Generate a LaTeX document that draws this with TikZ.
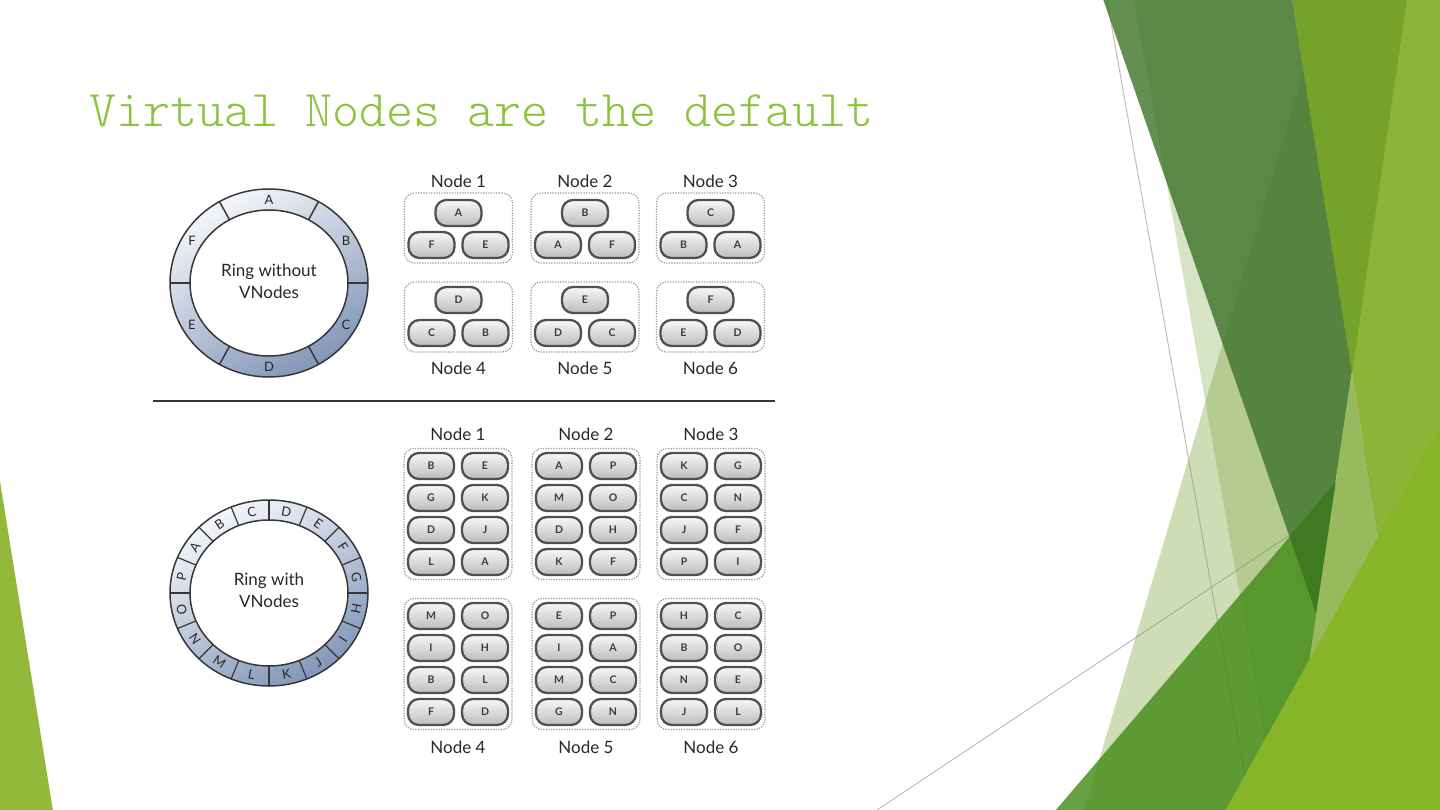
\documentclass[tikz,border=0pt]{standalone}
\usepackage{fontspec}
\newfontfamily\lato{Lato}
\definecolor{titlegreen}{RGB}{140,195,62}
\definecolor{sonecol}{RGB}{120,165,60}
\definecolor{stwocol}{RGB}{120,160,50}
\definecolor{darkcol}{RGB}{60,115,40}
\definecolor{midcol}{RGB}{65,138,20}
\definecolor{deepcol}{RGB}{63,122,32}
\definecolor{lightcol}{RGB}{150,186,92}
\definecolor{rthirtycol}{RGB}{138,181,54}
\definecolor{rthirtydark}{RGB}{118,162,42}
\definecolor{rthirtyone}{RGB}{134,182,40}
\definecolor{leftcol}{RGB}{147,185,59}
\definecolor{thingray}{RGB}{191,191,191}
\definecolor{ringlight}{RGB}{244,246,250}
\definecolor{ringdark}{RGB}{130,150,184}
\definecolor{ringedge}{RGB}{55,55,55}
\definecolor{pilltop}{RGB}{248,248,248}
\definecolor{pillbot}{RGB}{188,188,188}
\definecolor{pillline}{RGB}{80,80,80}
\definecolor{pilltext}{RGB}{60,60,60}
\definecolor{boxline}{RGB}{150,150,150}
\definecolor{labtext}{RGB}{40,40,40}
\begin{document}
\begin{tikzpicture}[x=1pt,y=-1pt,
  title/.style={font={\fontsize{51.5}{60}\fontseries{l}\ttfamily}, text=titlegreen, inner sep=0pt, anchor=base west},
  pill/.style={draw=pillline, line width=2.3pt, rounded corners=11pt, minimum width=46pt, minimum height=26pt, inner sep=0pt, top color=pilltop, bottom color=pillbot, font={\lato\bfseries\fontsize{10.5}{10.5}\selectfont}, text=pilltext},
  nbox/.style={draw=boxline, line width=1.2pt, dash pattern=on 1.2pt off 1.4pt, rounded corners=10pt, inner sep=0pt},
  nlabel/.style={font={\lato\fontsize{17}{17}\selectfont}, text=labtext, inner sep=0pt},
  ringtext/.style={font={\lato\fontsize{17}{22}\selectfont}, text=labtext, align=center, inner sep=0pt},
  ringlab/.style={font={\lato\fontsize{13}{13}\selectfont}, text=labtext, inner sep=0pt},
  ringline/.style={draw=ringedge, line width=1.5pt},
  thinline/.style={draw=thingray, line width=1pt},
  sepline/.style={draw=ringedge, line width=2pt}
]
\useasboundingbox (0,0) rectangle (1440,810);
\fill[white] (0,0) rectangle (1440,810);

% ---------- decoration ----------
\coordinate (la1) at (1107,0);
\coordinate (la2) at (1251,810);
\coordinate (lb1) at (877,810);
\coordinate (lb2) at (1440,435);
\draw[thinline] (la1) -- (la2);
\draw[thinline] (lb1) -- (lb2);
\fill[sonecol, fill opacity=0.3] (1134,-1) -- (1441,-1) -- (1441,811) -- (1278,811) -- cycle;
\fill[stwocol, fill opacity=0.35] (1325,-1) -- (1440,811) -- (1084,811) -- cycle;
\fill[darkcol, fill opacity=0.8] (1103,-1) -- (1407,-1) -- (1316,613) -- cycle;
\fill[midcol, fill opacity=0.8] (1055,811) -- (1441,360) -- (1441,811) -- cycle;
\fill[deepcol] (1289.5,536) -- (1335.7,482) -- (1316,613) -- cycle;
\fill[lightcol] (1352,373) -- (1423,811) -- (1287,811) -- cycle;
\fill[rthirtycol] (1292,-1) -- (1441,-1) -- (1441,811) -- (1423,811) -- cycle;
\fill[rthirtydark] (1292,-1) -- (1407,-1) -- (1352,373) -- cycle;
\fill[rthirtyone] (1441,424) -- (1441,811) -- (1225,811) -- cycle;
\fill[leftcol] (-1,475) -- (53,811) -- (-1,811) -- cycle;

% ---------- title ----------
\node[title] (title) at (89,127) {Virtual Nodes are the default};

% ---------- upper ring ----------
\begin{scope}[shift={(269,283)}]
  \coordinate (ra) at (0,0);
  \shade[top color=ringlight, bottom color=ringdark, shading angle=30] (ra) ellipse [x radius=99pt, y radius=94pt];
  \fill[white] (ra) ellipse [x radius=79pt, y radius=73pt];
  \draw[ringline] (ra) ellipse [x radius=99pt, y radius=94pt];
  \draw[ringline] (ra) ellipse [x radius=79pt, y radius=73pt];
  \foreach \a in {0,60,...,300} \draw[ringline] (\a:79pt and 73pt) -- (\a:99pt and 94pt);
  \foreach \l/\a in {A/90,B/30,C/-30,D/-90,E/210,F/150}
    \node[ringlab] (ra\l) at (\a:89pt and 83.5pt) {\l};
  \node[ringtext] (rta) at (0,-2) {Ring without\\VNodes};
\end{scope}

% ---------- lower ring ----------
\begin{scope}[shift={(269,593)}]
  \coordinate (rb) at (0,0);
  \shade[top color=ringlight, bottom color=ringdark, shading angle=30] (rb) ellipse [x radius=99pt, y radius=93pt];
  \fill[white] (rb) ellipse [x radius=79pt, y radius=73pt];
  \draw[ringline] (rb) ellipse [x radius=99pt, y radius=93pt];
  \draw[ringline] (rb) ellipse [x radius=79pt, y radius=73pt];
  \foreach \k in {0,...,15} {
    \pgfmathsetmacro\a{90+22.5*\k}
    \draw[ringline, line width=1.2pt] (\a:79pt and 73pt) -- (\a:99pt and 93pt);
  }
  \foreach \l/\a/\r in {D/78.75/-11.25, C/101.25/11.25, B/123.75/33.75, A/146.25/56.25,
      P/168.75/78.75, O/191.25/-78.75, N/213.75/-56.25, M/236.25/-33.75,
      L/258.75/-11.25, K/281.25/11.25, J/303.75/33.75, I/326.25/56.25,
      H/348.75/78.75, G/11.25/-78.75, F/33.75/-56.25, E/56.25/-33.75}
    \node[ringlab, rotate=\r] (rb\l) at (\a:89pt and 83pt) {\l};
  \node[ringtext] (rtb) at (0,-3) {Ring with\\VNodes};
\end{scope}

% ---------- upper nodes ----------
\foreach \cx/\nm/\t/\l/\r in {458.5/1/A/F/E, 585/2/B/A/F, 710.5/3/C/B/A} {
  \node[nbox, minimum width=108pt, minimum height=70pt] (ub\nm) at (\cx,228) {};
  \node[pill] (ub\nm t) at (\cx,213) {\t};
  \node[pill] (ub\nm l) at ({\cx-27},245) {\l};
  \node[pill] (ub\nm r) at ({\cx+27},245) {\r};
  \node[nlabel] (ul\nm) at (\cx,181) {Node \nm};
}
\foreach \cx/\nm/\t/\l/\r in {458.5/4/D/C/B, 585/5/E/D/C, 710.5/6/F/E/D} {
  \node[nbox, minimum width=108pt, minimum height=70pt] (ub\nm) at (\cx,317) {};
  \node[pill] (ub\nm t) at (\cx,300) {\t};
  \node[pill] (ub\nm l) at ({\cx-27},333) {\l};
  \node[pill] (ub\nm r) at ({\cx+27},333) {\r};
  \node[nlabel] (ul\nm) at (\cx,368) {Node \nm};
}

% ---------- separator ----------
\coordinate (sepl) at (153,401);
\coordinate (sepr) at (775,401);
\draw[sepline] (sepl) -- (sepr);

% ---------- lower nodes ----------
\foreach \cx/\cy/\ly/\nm/\lst in {458/514/434/1/{B,E,G,K,D,J,L,A}, 586/514/434/2/{A,P,M,O,D,H,K,F},
    711/514/434/3/{K,G,C,N,J,F,P,I}, 458/664/747/4/{M,O,I,H,B,L,F,D},
    586/664/747/5/{E,P,I,A,M,C,G,N}, 711/664/747/6/{H,C,B,O,N,E,J,L}} {
  \node[nbox, minimum width=108pt, minimum height=131pt] (lb\nm) at (\cx,\cy) {};
  \node[nlabel] (ll\nm) at (\cx,\ly) {Node \nm};
  \foreach \s [count=\k from 0] in \lst {
    \pgfmathsetmacro\px{\cx+54*mod(\k,2)-27}
    \pgfmathsetmacro\py{\cy-48+32*floor(\k/2)}
    \node[pill] (lp\nm-\k) at (\px,\py) {\s};
  }
}
\end{tikzpicture}
\end{document}
